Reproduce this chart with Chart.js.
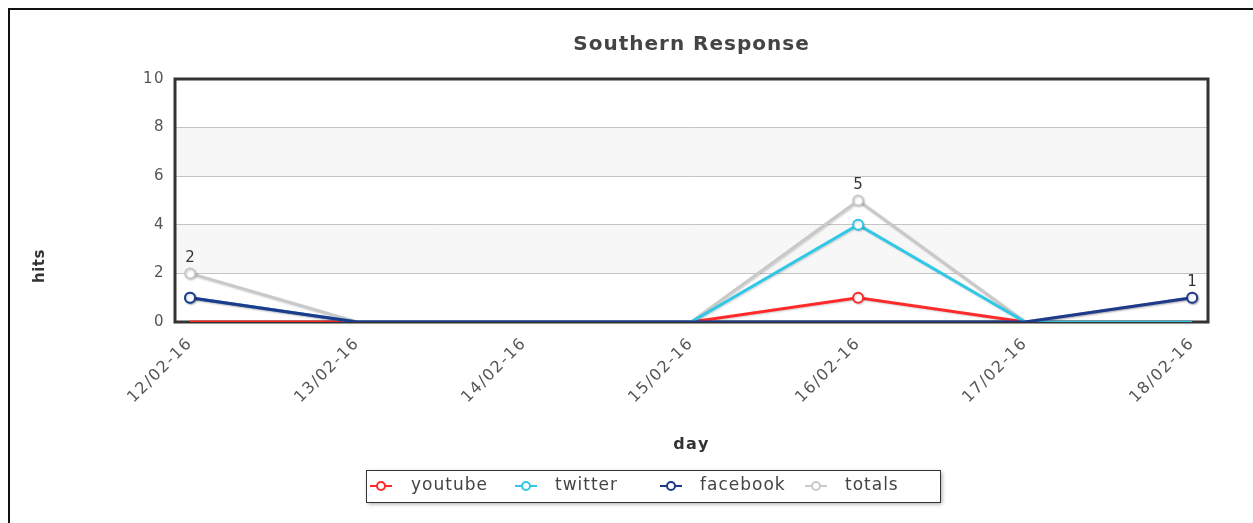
<!DOCTYPE html>
<html>
<head>
<meta charset="utf-8">
<script src="https://cdn.jsdelivr.net/npm/chart.js@4"></script>
<style>
  body { margin: 0; background: #fff; }
  #wrap { position: relative; width: 1253px; height: 523px; }
  #edge { position: absolute; left: 8px; top: 8px; right: -4px; bottom: -4px; border-left: 2px solid #111; border-top: 2px solid #111; }
</style>
</head>
<body>
<div id="wrap">
  <div id="edge"></div>
  <canvas id="chart1"></canvas>
</div>
<script>
// dados
var days = ['12/02-16', '13/02-16', '14/02-16', '15/02-16', '16/02-16', '17/02-16', '18/02-16'];
var youtube = [0, 0, 0, 0, 1, 0, 0];
var twitter = [1, 0, 0, 0, 4, 0, 0];
var facebook = [1, 0, 0, 0, 0, 0, 1];
var totals = [2, 0, 0, 0, 5, 0, 1];
var yTicks = [0, 2, 4, 6, 8, 10];

var names = ['youtube', 'twitter', 'facebook', 'totals'];
var colors = ['#ff2b2b', '#2fc8e6', '#1d3a8c', '#c9c9c9'];

function pts(arr) {
    return arr.map(function (v, i) { return { x: i, y: v }; });
}

function serie(i, values, order) {
    return {
        label: names[i],
        data: pts(values),
        borderColor: colors[i],
        backgroundColor: colors[i],
        borderWidth: 3,
        tension: 0,
        order: order,
        pointRadius: function (c) { return c.raw && c.raw.y !== 0 ? 5 : 0; },
        pointBackgroundColor: '#fff',
        pointBorderColor: colors[i],
        pointBorderWidth: 2
    };
}

var extras = {
    id: 'extras',
    beforeDraw: function (chart) {
        var ctx = chart.ctx, a = chart.chartArea, y = chart.scales.y;
        ctx.save();
        ctx.fillStyle = 'rgba(0,0,0,0.03)';
        [[2, 4], [6, 8]].forEach(function (b) {
            var t = y.getPixelForValue(b[1]), bt = y.getPixelForValue(b[0]);
            ctx.fillRect(a.left, t, a.width, bt - t);
        });
        ctx.restore();
        // espacamento das letras dos eixos
        ctx.letterSpacing = '1.5px';
    },
    beforeDatasetsDraw: function (chart) {
        var ctx = chart.ctx, a = chart.chartArea;
        ctx.letterSpacing = '0px';
        ctx.save();
        ctx.strokeStyle = '#333';
        ctx.lineWidth = 3;
        ctx.strokeRect(a.left, a.top, a.width, a.height);
        ctx.restore();
    },
    beforeDatasetDraw: function (chart) {
        var ctx = chart.ctx;
        ctx.save();
        ctx.shadowColor = 'rgba(0,0,0,0.18)';
        ctx.shadowBlur = 2;
        ctx.shadowOffsetX = 1;
        ctx.shadowOffsetY = 1;
    },
    afterDatasetDraw: function (chart) {
        chart.ctx.restore();
    },
    afterDraw: function (chart) {
        var ctx = chart.ctx, a = chart.chartArea;
        ctx.save();
        // titulo
        ctx.font = 'bold 20px "DejaVu Sans"';
        ctx.letterSpacing = '1px';
        ctx.fillStyle = '#444';
        ctx.textAlign = 'center';
        ctx.textBaseline = 'middle';
        ctx.fillText('Southern Response', (a.left + a.right) / 2, 45);

        // titulo do eixo y
        ctx.save();
        ctx.translate(40, 266);
        ctx.rotate(-Math.PI / 2);
        ctx.font = 'bold 15px "DejaVu Sans"';
        ctx.letterSpacing = '0.5px';
        ctx.fillStyle = '#333';
        ctx.fillText('hits', 0, 0);
        ctx.restore();

        // rotulos dos totais
        var meta = chart.getDatasetMeta(3);
        ctx.font = '15px "DejaVu Sans"';
        ctx.letterSpacing = '0px';
        ctx.fillStyle = '#333';
        ctx.textBaseline = 'bottom';
        meta.data.forEach(function (p, i) {
            if (totals[i] !== 0) ctx.fillText(String(totals[i]), p.x, p.y - 8);
        });

        // legenda
        var lx = 366, ly = 470, lw = 574, lh = 32;
        ctx.shadowColor = 'rgba(0,0,0,0.35)';
        ctx.shadowBlur = 4;
        ctx.shadowOffsetX = 2;
        ctx.shadowOffsetY = 2;
        ctx.fillStyle = '#fff';
        ctx.fillRect(lx, ly, lw, lh);
        ctx.shadowColor = 'transparent';
        ctx.strokeStyle = '#333';
        ctx.lineWidth = 1;
        ctx.strokeRect(lx + 0.5, ly + 0.5, lw, lh);
        var itemX = [370, 515, 660, 805];
        var textX = [411, 555, 700, 845];
        ctx.font = '17px "DejaVu Sans"';
        ctx.letterSpacing = '1px';
        ctx.textAlign = 'left';
        ctx.textBaseline = 'middle';
        names.forEach(function (n, i) {
            var cy = ly + lh / 2;
            ctx.strokeStyle = colors[i];
            ctx.lineWidth = 2;
            ctx.beginPath();
            ctx.moveTo(itemX[i], cy);
            ctx.lineTo(itemX[i] + 22, cy);
            ctx.stroke();
            ctx.beginPath();
            ctx.arc(itemX[i] + 11, cy, 4, 0, Math.PI * 2);
            ctx.fillStyle = '#fff';
            ctx.fill();
            ctx.stroke();
            ctx.fillStyle = '#444';
            ctx.fillText(n, textX[i], cy);
        });
        ctx.restore();
    }
};

document.addEventListener('DOMContentLoaded', function () {
    var ctx = document.getElementById('chart1').getContext('2d');
    new Chart(ctx, {
        type: 'line',
        data: {
            datasets: [
                serie(0, youtube, 2),
                serie(1, twitter, 1),
                serie(2, facebook, 0),
                serie(3, totals, 3)
            ]
        },
        options: {
            responsive: true,
            maintainAspectRatio: false,
            animation: false,
            layout: { padding: { left: 28, right: 45, top: 79, bottom: 60 } },
            plugins: {
                legend: { display: false },
                tooltip: { enabled: false }
            },
            scales: {
                x: {
                    type: 'linear',
                    min: -0.09,
                    max: 6.095,
                    afterBuildTicks: function (s) {
                        s.ticks = days.map(function (d, i) { return { value: i }; });
                    },
                    afterFit: function (s) { s.height = 141; },
                    grid: { display: false },
                    border: { display: false },
                    ticks: {
                        minRotation: 45,
                        maxRotation: 45,
                        autoSkip: false,
                        padding: 4,
                        color: '#555',
                        font: { family: 'DejaVu Sans', size: 16 },
                        callback: function (v) { return days[v]; }
                    },
                    title: {
                        display: true,
                        text: 'day',
                        color: '#333',
                        font: { family: 'DejaVu Sans', size: 16, weight: 'bold' },
                        padding: { top: 0, bottom: 9 }
                    }
                },
                y: {
                    min: 0,
                    max: 10,
                    afterBuildTicks: function (s) {
                        s.ticks = yTicks.map(function (v) { return { value: v }; });
                    },
                    afterFit: function (s) { s.width = 147; },
                    grid: { color: '#c4c4c4', drawTicks: false },
                    border: { display: false },
                    ticks: {
                        padding: 10,
                        color: '#555',
                        font: { family: 'DejaVu Sans', size: 15 }
                    }
                }
            }
        },
        plugins: [extras]
    });
});
</script>
</body>
</html>
